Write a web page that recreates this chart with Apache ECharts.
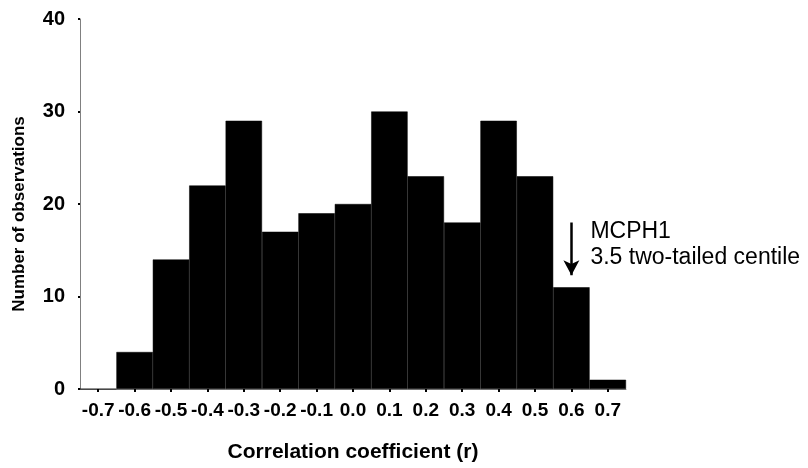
<!DOCTYPE html>
<html>
<head>
<meta charset="utf-8">
<script src="https://cdn.jsdelivr.net/npm/echarts@6/dist/echarts.min.js"></script>
<style>html,body{margin:0;padding:0;background:#fff}#c{width:808px;height:468px}</style>
</head>
<body>
<div id="c"></div>
<script>
var categories = ['-0.7','-0.6','-0.5','-0.4','-0.3','-0.2','-0.1','0.0','0.1','0.2','0.3','0.4','0.5','0.6','0.7'];
var counts = [0, 4, 14, 22, 29, 17, 19, 20, 30, 23, 18, 29, 23, 11, 1];
var yTicks = [0, 10, 20, 30, 40];
var annotationCategory = '0.6';
var arrowFrom = 18;
var arrowTo = 12.3;
var annotationLines = ['MCPH1', '3.5 two-tailed centile'];

var font = '"Liberation Sans", Arial, sans-serif';
var chart = echarts.init(document.getElementById('c'), null, {renderer: 'canvas'});
chart.setOption({
  animation: false,
  backgroundColor: '#fff',
  grid: {left: 80, right: 182, top: 19, bottom: 78, containLabel: false},
  xAxis: {
    type: 'category',
    data: categories,
    boundaryGap: true,
    name: 'Correlation coefficient (r)',
    nameLocation: 'middle',
    nameGap: 53,
    nameTextStyle: {fontFamily: font, fontWeight: 'bold', fontSize: 21, color: '#000'},
    axisLine: {show: true, lineStyle: {color: '#808080', width: 1}},
    axisTick: {show: true, alignWithLabel: true, length: 3, lineStyle: {color: '#000', width: 2}},
    axisLabel: {fontFamily: font, fontWeight: 'bold', fontSize: 19, color: '#000', margin: 12, interval: 0},
    splitLine: {show: false}
  },
  yAxis: {
    type: 'value',
    min: yTicks[0],
    max: yTicks[yTicks.length - 1],
    interval: 10,
    name: 'Number of observations',
    nameLocation: 'middle',
    nameGap: 52,
    nameRotate: 90,
    nameTextStyle: {fontFamily: font, fontWeight: 'bold', fontSize: 17, color: '#000', padding: [0, 20, 0, 0]},
    axisLine: {show: true, lineStyle: {color: '#808080', width: 1}},
    axisTick: {show: true, length: 2, lineStyle: {color: '#000', width: 2}},
    axisLabel: {fontFamily: font, fontWeight: 'bold', fontSize: 20, color: '#000', margin: 15},
    splitLine: {show: false}
  },
  series: [{
    type: 'bar',
    data: counts,
    barCategoryGap: '0%',
    barWidth: '100%',
    itemStyle: {color: '#000', borderColor: '#000', borderWidth: 0.5},
    markLine: {
      silent: true,
      symbol: ['none', 'arrow'],
      symbolSize: [12, 15],
      label: {show: false},
      lineStyle: {color: '#000', width: 2.5, type: 'solid'},
      data: [[{coord: [annotationCategory, arrowFrom]}, {coord: [annotationCategory, arrowTo]}]]
    }
  }]
});

var p = chart.convertToPixel({seriesIndex: 0}, [annotationCategory, arrowFrom]);
chart.setOption({
  graphic: [{
    type: 'text',
    left: p[0] + 19,
    top: p[1] - 4,
    style: {
      text: annotationLines.join('\n'),
      font: '23px ' + font,
      fill: '#000',
      lineHeight: 26
    }
  }]
});
</script>
</body>
</html>
